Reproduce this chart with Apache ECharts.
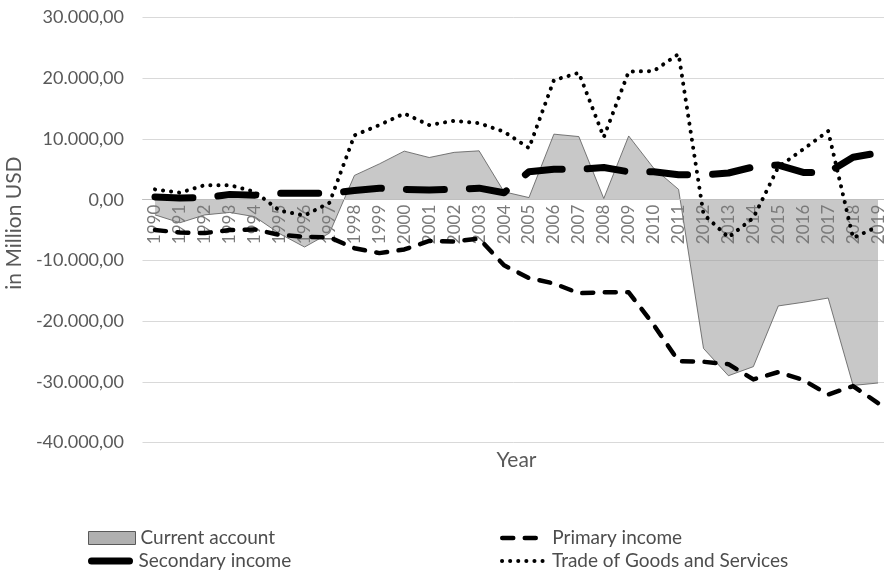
<!DOCTYPE html>
<html>
<head>
<meta charset="utf-8">
<title>Balance of Payments</title>
<script src="https://cdn.jsdelivr.net/npm/echarts@6/dist/echarts.min.js"></script>
<style>
  html, body { margin: 0; padding: 0; background: #ffffff; }
  #chart { width: 884px; height: 570px; }
</style>
</head>
<body>
<div id="chart"></div>
<script>
// Years on the category axis
var years = [
  '1990','1991','1992','1993','1994','1995','1996','1997','1998','1999',
  '2000','2001','2002','2003','2004','2005','2006','2007','2008','2009',
  '2010','2011','2012','2013','2014','2015','2016','2017','2018','2019'
];

// Values in million USD
var currentAccount = [
  -2500, -3800, -2500, -2100, -2800, -5600, -7800, -5500, 4000, 5900,
  8000, 6950, 7800, 8050, 1300, 350, 10800, 10400, 200, 10500,
  5200, 1700, -24500, -29000, -27500, -17500, -16900, -16200, -30600, -30200
];
var primaryIncome = [
  -5000, -5400, -5500, -5000, -4900, -5800, -6100, -6200, -8000, -8800,
  -8200, -6800, -6900, -6400, -10800, -12900, -13800, -15400, -15250, -15250,
  -20600, -26600, -26700, -27100, -29600, -28400, -29700, -32100, -30700, -33500
];
var secondaryIncome = [
  450, 300, 350, 850, 750, 1050, 1050, 1050, 1500, 1900,
  1700, 1600, 1700, 1900, 1150, 4600, 5000, 5000, 5300, 4600,
  4600, 4100, 4100, 4400, 5400, 5700, 4500, 4500, 7000, 7700
];
var tradeGoodsServices = [
  1700, 1150, 2400, 2400, 1300, -1800, -2600, -500, 10600, 12300,
  14200, 12300, 13000, 12600, 11200, 8500, 19700, 20900, 10300, 21100,
  21200, 24000, -2400, -6200, -3000, 5400, 8300, 11300, -6300, -4400
];

// German number format: 30.000,00
function formatDE(v) {
  var neg = v < 0;
  var s = Math.abs(Math.round(v)).toString();
  s = s.replace(/\B(?=(\d{3})+(?!\d))/g, '.');
  return (neg ? '-' : '') + s + ',00';
}

var FONT = 'Lato';

// Line styles shared by series and their legend icons
var styleSecondary = { color: '#000000', width: 7, type: [38, 25], cap: 'round', join: 'round' };
var stylePrimary = { color: '#000000', width: 4.5, type: [11, 11.5], cap: 'round', join: 'round' };
var styleTrade = { color: '#000000', width: 4, type: [0.1, 8], cap: 'round', join: 'round' };

function legendAt(left, top, iconWidth, item) {
  return {
    left: left, top: top, padding: 0, itemWidth: iconWidth, itemHeight: 13, itemGap: 10,
    textStyle: { fontFamily: FONT, fontSize: 19, color: '#4d4d4d' },
    data: [item]
  };
}

var chart = echarts.init(document.getElementById('chart'));

chart.setOption({
  animation: false,
  backgroundColor: '#ffffff',
  textStyle: { fontFamily: FONT },
  grid: { left: 142.5, top: 17.6, width: 748, height: 424.9, containLabel: false, outerBoundsMode: 'none' },
  legend: [
    legendAt(88, 528.5, 47, { name: 'Current account', icon: 'rect',
      itemStyle: { color: '#b0b0b0', borderColor: '#595959', borderWidth: 1 } }),
    legendAt(88, 551.5, 42, { name: 'Secondary income',
      itemStyle: { opacity: 0 }, lineStyle: styleSecondary }),
    legendAt(500, 528.5, 45, { name: 'Primary income',
      itemStyle: { opacity: 0 }, lineStyle: stylePrimary }),
    legendAt(500, 551.5, 45, { name: 'Trade of Goods and Services',
      itemStyle: { opacity: 0 }, lineStyle: styleTrade })
  ],
  xAxis: {
    type: 'category',
    data: years,
    boundaryGap: true,
    z: 1.5,
    offset: -242.8,
    name: 'Year',
    nameLocation: 'middle',
    nameGap: 250,
    nameTextStyle: { fontFamily: FONT, fontSize: 21, color: '#595959' },
    axisLine: { onZero: false, lineStyle: { color: '#bfbfbf', width: 1 } },
    axisTick: { show: false },
    axisLabel: { rotate: 90, margin: 5, interval: 0, fontFamily: FONT, fontSize: 17, color: '#7a7a7a' },
    splitLine: { show: false }
  },
  yAxis: {
    type: 'value',
    min: -40000,
    max: 30000,
    interval: 10000,
    name: 'in Million USD',
    nameLocation: 'middle',
    nameRotate: 90,
    nameGap: 116,
    nameTextStyle: { fontFamily: FONT, fontSize: 21, color: '#595959', padding: [0, 0, 0, 14] },
    axisLine: { show: false },
    axisTick: { show: false },
    axisLabel: { margin: 18.5, fontFamily: FONT, fontSize: 18, color: '#595959', formatter: formatDE },
    splitLine: { lineStyle: { color: '#d9d9d9', width: 1 } }
  },
  series: [
    {
      name: 'Current account',
      type: 'line',
      data: currentAccount,
      z: 1,
      symbol: 'none',
      itemStyle: { color: '#b0b0b0' },
      lineStyle: { color: '#595959', width: 0.8 },
      areaStyle: { color: 'rgba(150,150,150,0.75)', origin: 0 }
    },
    {
      name: 'Secondary income',
      type: 'line',
      data: secondaryIncome,
      z: 3,
      symbol: 'none',
      itemStyle: { color: '#000000' },
      lineStyle: styleSecondary
    },
    {
      name: 'Primary income',
      type: 'line',
      data: primaryIncome,
      z: 3,
      symbol: 'none',
      itemStyle: { color: '#000000' },
      lineStyle: stylePrimary
    },
    {
      name: 'Trade of Goods and Services',
      type: 'line',
      data: tradeGoodsServices,
      z: 4,
      symbol: 'none',
      itemStyle: { color: '#000000' },
      lineStyle: styleTrade
    }
  ]
});
</script>
</body>
</html>
